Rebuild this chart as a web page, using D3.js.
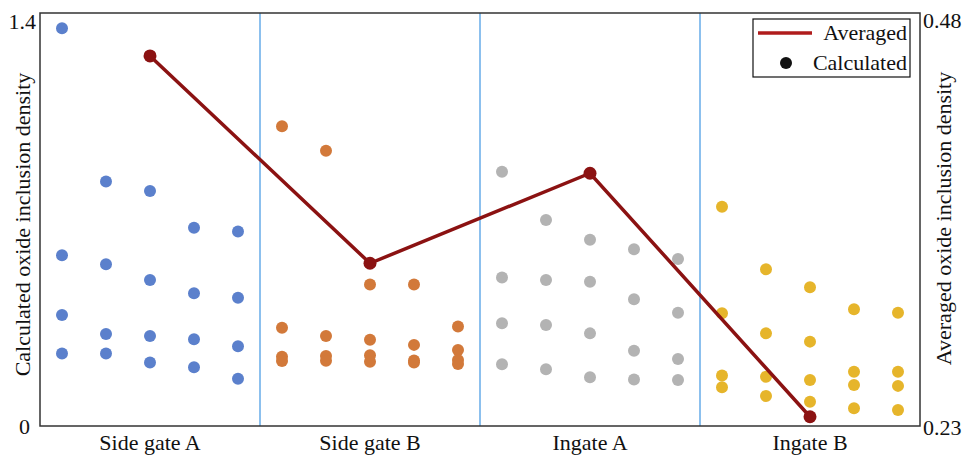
<!DOCTYPE html>
<html>
<head>
<meta charset="utf-8">
<script src="https://cdn.jsdelivr.net/npm/d3@7"></script>
<style>
  body { margin: 0; background: #fff; }
  text { font-family: "Liberation Serif", "Times New Roman", serif; fill: #111; }
</style>
</head>
<body>
<svg id="chart" width="965" height="455"></svg>
<script>
const groups = ['Side gate A', 'Side gate B', 'Ingate A', 'Ingate B'];
const colors = ['#5b80cc', '#d2793a', '#b3b3b3', '#e6b52b'];

// calculated values, one array per column (5 columns per group)
const sideGateA = [
  [1.348, 0.579, 0.376, 0.246],
  [0.829, 0.548, 0.312, 0.246],
  [0.797, 0.495, 0.305, 0.215],
  [0.672, 0.450, 0.294, 0.199],
  [0.659, 0.435, 0.270, 0.160],
];
const sideGateB = [
  [1.016, 0.333, 0.235, 0.220],
  [0.933, 0.305, 0.237, 0.221],
  [0.480, 0.292, 0.240, 0.218],
  [0.480, 0.275, 0.222, 0.215],
  [0.337, 0.258, 0.224, 0.210],
];
const ingateA = [
  [0.862, 0.503, 0.348, 0.209],
  [0.698, 0.495, 0.342, 0.192],
  [0.631, 0.489, 0.314, 0.165],
  [0.599, 0.430, 0.255, 0.158],
  [0.566, 0.384, 0.227, 0.156],
];
const ingateB = [
  [0.743, 0.382, 0.171, 0.131],
  [0.531, 0.314, 0.167, 0.102],
  [0.470, 0.286, 0.156, 0.082],
  [0.396, 0.184, 0.139, 0.060],
  [0.384, 0.184, 0.136, 0.054],
];
const averaged = [0.454, 0.3285, 0.383, 0.2356];

const leftTicks = [0, 1.4];
const rightTicks = [0.23, 0.48];

const svg = d3.select('#chart');
const margin = { top: 13, right: 45, bottom: 29, left: 40 };
const width = 965 - margin.left - margin.right;
const height = 455 - margin.top - margin.bottom;
const g = svg.append('g').attr('transform', `translate(${margin.left},${margin.top})`);

const x = d3.scaleBand().domain(groups).range([0, width]);
const xCol = d3.scaleBand().domain(d3.range(5)).range([0, x.bandwidth()]);
const yLeft = d3.scaleLinear().domain([0, 1.4]).range([height, 0]);
const yRight = d3.scaleLinear().domain([0.23, 0.48]).range([height, 0]);

// group dividers
g.selectAll('.divider')
  .data(groups.slice(1))
  .enter()
  .append('line')
  .attr('class', 'divider')
  .attr('x1', d => x(d)).attr('x2', d => x(d))
  .attr('y1', 0).attr('y2', height)
  .attr('stroke', '#8cc0ee')
  .attr('stroke-width', 2);

// calculated points
const allGroups = [sideGateA, sideGateB, ingateA, ingateB];
const points = [];
allGroups.forEach((cols, gi) => {
  cols.forEach((vals, ci) => {
    vals.forEach(v => points.push({ group: groups[gi], col: ci, value: v, gi }));
  });
});

g.selectAll('.calc')
  .data(points)
  .enter()
  .append('circle')
  .attr('class', 'calc')
  .attr('cx', d => x(d.group) + xCol(d.col) + xCol.bandwidth() / 2)
  .attr('cy', d => yLeft(d.value))
  .attr('r', 6)
  .attr('fill', d => colors[d.gi]);

// averaged line
const avgData = groups.map((grp, i) => ({ group: grp, value: averaged[i] }));
const line = d3.line()
  .x(d => x(d.group) + x.bandwidth() / 2)
  .y(d => yRight(d.value));

g.append('path')
  .datum(avgData)
  .attr('d', line)
  .attr('fill', 'none')
  .attr('stroke', '#8b1212')
  .attr('stroke-width', 3.5);

g.selectAll('.avg')
  .data(avgData)
  .enter()
  .append('circle')
  .attr('class', 'avg')
  .attr('cx', d => x(d.group) + x.bandwidth() / 2)
  .attr('cy', d => yRight(d.value))
  .attr('r', 6.5)
  .attr('fill', '#8b1212');

// frame
g.append('rect')
  .attr('width', width).attr('height', height)
  .attr('fill', 'none')
  .attr('stroke', '#333')
  .attr('stroke-width', 1.5);

const fontSize = '22px';

// axes (labels only)
const leftAxis = d3.axisLeft(yLeft).tickValues(leftTicks).tickSize(0).tickPadding(4)
  .tickFormat(d => d === 0 ? '0' : d3.format('.1f')(d));
g.append('g').call(leftAxis).call(a => a.select('.domain').remove())
  .selectAll('text')
  .style('font-size', fontSize).style('font-family', 'Liberation Serif').style('fill', '#111')
  .attr('dx', d => (d === 0 ? -6 : 0))
  .attr('dy', d => (d === 0 ? '0.34em' : '0.32em'))
  .attr('y', d => (d === 0 ? 0 : 8));

const rightAxis = d3.axisRight(yRight).tickValues(rightTicks).tickSize(0).tickPadding(3)
  .tickFormat(d3.format('.2f'));
g.append('g').attr('transform', `translate(${width},0)`).call(rightAxis)
  .call(a => a.select('.domain').remove())
  .selectAll('text')
  .style('font-size', fontSize).style('font-family', 'Liberation Serif').style('fill', '#111')
  .attr('dy', '0.32em')
  .attr('y', d => (d === 0.48 ? 7 : 1));

const bottomAxis = d3.axisBottom(x).tickSize(0).tickPadding(8);
g.append('g').attr('transform', `translate(0,${height})`).call(bottomAxis)
  .call(a => a.select('.domain').remove())
  .selectAll('text')
  .style('font-size', fontSize).style('font-family', 'Liberation Serif').style('fill', '#111');

// axis titles
svg.append('text')
  .attr('transform', `translate(30,${margin.top + height / 2 + 5}) rotate(-90)`)
  .attr('text-anchor', 'middle')
  .style('font-size', '22px')
  .text('Calculated oxide inclusion density');

svg.append('text')
  .attr('transform', `translate(951,${margin.top + height / 2 - 1}) rotate(-90)`)
  .attr('text-anchor', 'middle')
  .style('font-size', '22px')
  .text('Averaged oxide inclusion density');

// legend
const legend = svg.append('g').attr('transform', 'translate(753,19)');
legend.append('rect')
  .attr('width', 157).attr('height', 58)
  .attr('fill', '#fff').attr('stroke', '#111').attr('stroke-width', 1.2);
legend.append('line')
  .attr('x1', 5).attr('x2', 59).attr('y1', 14).attr('y2', 14)
  .attr('stroke', '#b01c1c').attr('stroke-width', 3.5);
legend.append('text').attr('x', 154).attr('y', 21).attr('text-anchor', 'end')
  .style('font-size', fontSize).text('Averaged');
legend.append('circle').attr('cx', 33).attr('cy', 44).attr('r', 6).attr('fill', '#111');
legend.append('text').attr('x', 154).attr('y', 51).attr('text-anchor', 'end')
  .style('font-size', fontSize).text('Calculated');
</script>
</body>
</html>
